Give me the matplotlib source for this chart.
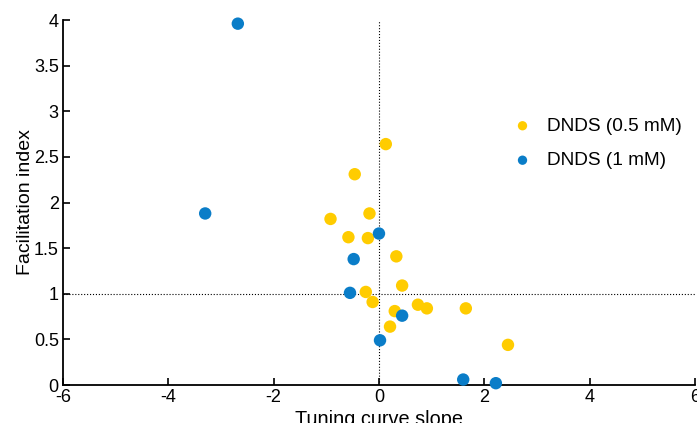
import matplotlib
matplotlib.use("Agg")
import matplotlib.pyplot as plt

plt.rcParams['font.family'] = ['Liberation Sans', 'DejaVu Sans']

# DNDS 0.5 mM
slope_05 = [0.13, -0.46, -0.92, -0.18, -0.58, -0.21, 0.33, 0.44, -0.25,
            -0.12, 0.30, 0.21, 0.74, 0.91, 1.65, 2.45]
facil_05 = [2.64, 2.31, 1.82, 1.88, 1.62, 1.61, 1.41, 1.09, 1.02,
            0.91, 0.81, 0.64, 0.88, 0.84, 0.84, 0.44]

# DNDS 1 mM
slope_1 = [-2.68, -3.30, 0.00, -0.48, -0.55, 0.44, 0.02, 1.60, 2.22]
facil_1 = [3.96, 1.88, 1.66, 1.38, 1.01, 0.76, 0.49, 0.06, 0.02]

xticks = [-6, -4, -2, 0, 2, 4, 6]
yticks = [0, 0.5, 1, 1.5, 2, 2.5, 3, 3.5, 4]
ytick_labels = ['0', '0.5', '1', '1.5', '2', '2.5', '3', '3.5', '4']

yellow = '#FFCC00'
blue = '#0A7DC8'

fig = plt.figure(figsize=(6.97, 4.23), dpi=100)
ax = fig.add_axes([0.0904, 0.0898, 0.9066, 0.8629])

ax.axhline(1, color='black', lw=0.8, ls=':', zorder=1)
ax.axvline(0, color='black', lw=0.8, ls=':', zorder=1)

ax.scatter(slope_05, facil_05, s=80, color=yellow, edgecolors='none',
           label='DNDS (0.5 mM)', zorder=3, clip_on=False)
ax.scatter(slope_1, facil_1, s=80, color=blue, edgecolors='none',
           label='DNDS (1 mM)', zorder=3, clip_on=False)

ax.set_xlim(-6, 6)
ax.set_ylim(0, 4)
ax.set_xticks(xticks)
ax.set_xticklabels([str(t) for t in xticks])
ax.set_yticks(yticks)
ax.set_yticklabels(ytick_labels)

for side in ('top', 'right'):
    ax.spines[side].set_visible(False)
for side in ('left', 'bottom'):
    ax.spines[side].set_linewidth(1.3)

ax.tick_params(direction='in', length=5, width=1.2, labelsize=13, pad=3)

ax.set_xlabel('Tuning curve slope', fontsize=14.3, labelpad=3)
ax.set_ylabel('Facilitation index', fontsize=14, labelpad=0)

leg = ax.legend(loc='upper left', bbox_to_anchor=(0.685, 0.78), frameon=False,
                fontsize=13.7, markerscale=0.75, handletextpad=0.8,
                labelspacing=0.9, handlelength=1.0)

fig.savefig('out.png', dpi=100)
